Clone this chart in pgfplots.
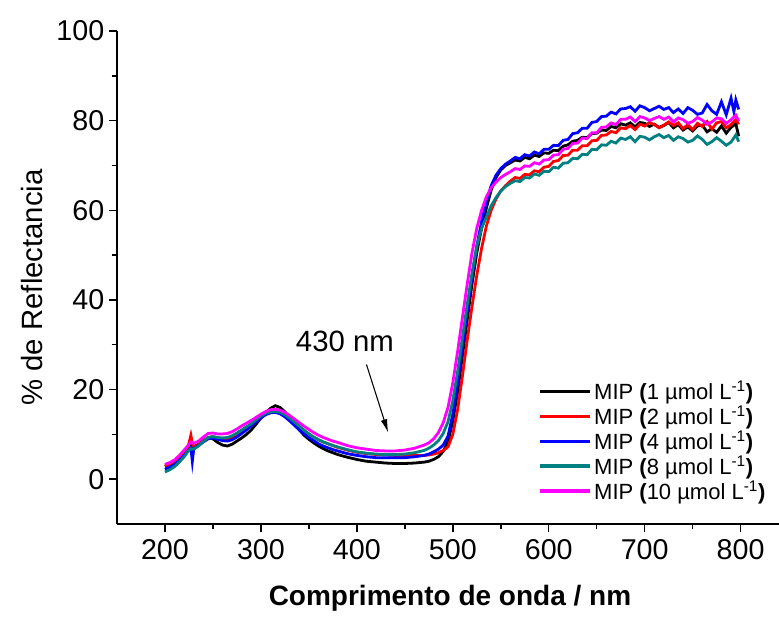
\documentclass[border=0pt]{standalone}
\usepackage{fontspec}
\setmainfont{Liberation Sans}
\usepackage{pgfplots}
\pgfplotsset{compat=1.18}
\usetikzlibrary{arrows.meta}
\definecolor{mteal}{RGB}{0,128,128}
\definecolor{mmag}{RGB}{255,0,255}
\definecolor{mred}{RGB}{255,0,0}
\definecolor{mblue}{RGB}{0,0,255}
\begin{document}
\begin{tikzpicture}
\begin{axis}[
  name=ax,
  scale only axis,
  width=496.5pt, height=369.75pt,
  xmin=150, xmax=840, ymin=-10, ymax=100,
  axis lines*=left,
  axis line style={line width=1.2pt},
  every tick/.style={line width=1.1pt, black},
  tick align=outside,
  major tick length=6pt, minor tick length=4pt,
  xtick={200,300,...,800}, minor x tick num=1,
  ytick={0,20,...,100}, minor y tick num=1,
  /pgf/number format/assume math mode=true,
  tick label style={font=\fontsize{21.5}{24}\selectfont},
  xticklabel style={yshift=-2pt},
  xlabel={\textbf{Comprimento de onda / nm}},
  ylabel={\% de Reflectancia},
  xlabel style={font=\fontsize{21}{24}\selectfont, at={(axis description cs:0.503,-0.150)}, anchor=center},
  ylabel style={font=\fontsize{22}{25}\selectfont, at={(axis description cs:-0.128,0.48)}, anchor=center},
  legend style={draw=none, fill=none, at={(axis description cs:0.630,0.302)}, anchor=north west,
    font=\fontsize{16.5}{18}\selectfont, row sep=-1.0pt},
  legend cell align=left,
  legend image code/.code={\draw[#1,line width=2.4pt] (0pt,0pt) -- (37.5pt,0pt);},
  every axis plot/.append style={line width=2.1pt},
]
% MIP 1
\addplot[black] coordinates {
(200,2.8)(205,3.3)(210,3.8)(215,4.6)(220,5.6)(224,6.8)(227,7.6)(230,7.2)(235,7.8)(240,8.6)(245,9.2)(250,9.0)(255,8.2)(260,7.6)(265,7.4)(270,7.8)(275,8.5)(280,9.2)(285,10.0)(290,11.0)(295,12.3)(300,13.6)(305,14.8)(310,15.8)(315,16.4)(320,16.0)(325,15.0)(330,13.7)(335,12.3)(340,11.0)(345,9.8)(350,8.9)(355,8.1)(360,7.4)(365,6.8)(370,6.3)(375,5.9)(380,5.5)(390,4.9)(400,4.4)(410,4.0)(420,3.8)(430,3.6)(440,3.5)(450,3.5)(460,3.6)(470,3.8)(475,4.0)(480,4.4)(485,5.0)(490,6.2)(495,8.4)(500,13.0)(505,19.5)(510,27.5)(515,35.5)(520,43.5)(525,50.5)(530,56.0)(535,60.5)(540,64.5)(545,67.3)(550,69.0)(555,70.0)(560,70.6)(565,71.2)(570,71.0)(575,71.8)(580,71.5)(585,72.3)(590,72.0)(595,72.8)(600,72.7)(605,73.4)(610,73.3)(615,74.3)(620,74.6)(625,75.4)(630,75.6)(635,76.3)(640,76.2)(645,77.1)(650,77.2)(655,77.9)(660,77.8)(665,78.7)(670,78.4)(675,79.3)(680,79.0)(685,79.5)(690,78.6)(695,79.6)(700,79.4)(705,78.7)(710,79.2)(715,78.5)(720,78.9)(725,79.6)(730,78.4)(735,79.1)(740,77.9)(745,78.6)(750,77.7)(755,78.8)(760,79.0)(765,77.5)(770,78.2)(775,77.4)(780,78.8)(785,77.2)(790,78.5)(795,79.3)(798,76.5)};
% MIP 2
\addplot[mred] coordinates {
(200,3.0)(205,3.4)(210,4.0)(215,5.0)(220,6.2)(224,7.2)(227,9.8)(229,7.5)(232,7.3)(235,7.7)(240,8.5)(245,9.3)(250,9.5)(255,9.2)(260,8.9)(265,8.8)(270,9.2)(275,9.8)(280,10.5)(285,11.2)(290,12.0)(295,12.9)(300,13.8)(305,14.5)(310,14.9)(315,15.0)(320,14.8)(325,14.3)(330,13.5)(335,12.6)(340,11.7)(345,10.9)(350,10.1)(355,9.4)(360,8.8)(365,8.3)(370,7.9)(375,7.5)(380,7.1)(390,6.5)(400,6.0)(410,5.7)(420,5.5)(430,5.4)(440,5.3)(450,5.3)(460,5.3)(470,5.3)(475,5.4)(480,5.6)(485,5.9)(490,6.4)(495,7.2)(500,10.0)(505,15.5)(510,23.0)(515,31.0)(520,38.5)(525,45.5)(530,51.5)(535,56.5)(540,60.0)(545,62.5)(550,64.3)(555,65.5)(560,66.5)(565,67.3)(570,67.1)(575,68.0)(580,67.9)(585,68.8)(590,68.6)(595,69.6)(600,69.8)(605,70.9)(610,71.1)(615,72.2)(620,72.3)(625,73.4)(630,73.4)(635,74.4)(640,74.4)(645,75.5)(650,75.6)(655,76.7)(660,76.8)(665,77.6)(670,77.3)(675,78.4)(680,78.2)(685,78.9)(690,78.0)(695,79.2)(700,78.8)(705,79.6)(710,79.1)(715,78.4)(720,79.0)(725,79.7)(730,78.9)(735,79.5)(740,78.2)(745,79.1)(750,78.0)(755,79.4)(760,78.7)(765,79.8)(770,78.1)(775,79.5)(780,79.8)(785,78.4)(790,79.1)(795,80.2)(798,79.2)};
% MIP 4
\addplot[mblue] coordinates {
(200,2.2)(205,2.7)(210,3.3)(215,4.2)(220,5.3)(224,6.3)(227,7.0)(228.5,4.0)(230,6.8)(235,7.5)(240,8.3)(245,9.0)(250,9.2)(255,8.9)(260,8.6)(265,8.5)(270,8.8)(275,9.4)(280,10.2)(285,11.0)(290,11.9)(295,12.8)(300,13.7)(305,14.4)(310,14.8)(315,14.9)(320,14.6)(325,13.9)(330,13.0)(335,12.0)(340,11.0)(345,10.1)(350,9.3)(355,8.6)(360,7.9)(365,7.4)(370,7.0)(375,6.6)(380,6.3)(390,5.7)(400,5.3)(410,5.0)(420,4.8)(430,4.8)(440,4.8)(450,4.8)(460,5.0)(470,5.3)(475,5.6)(480,6.1)(485,6.7)(490,7.6)(495,9.6)(500,14.5)(505,21.5)(510,29.5)(515,37.5)(520,45.0)(525,52.0)(530,57.5)(535,62.0)(540,65.5)(545,67.8)(550,69.3)(555,70.3)(560,71.0)(565,71.8)(570,71.5)(575,72.4)(580,72.1)(585,73.0)(590,72.6)(595,73.6)(600,73.6)(605,74.5)(610,74.4)(615,75.6)(620,75.8)(625,77.1)(630,77.3)(635,78.3)(640,78.3)(645,79.6)(650,79.8)(655,80.9)(660,81.0)(665,81.9)(670,81.5)(675,82.6)(680,82.7)(685,83.1)(690,82.1)(695,83.3)(700,82.9)(705,82.2)(710,82.7)(715,83.2)(720,82.5)(725,82.9)(730,81.8)(735,82.6)(740,81.6)(745,82.9)(750,82.3)(755,81.4)(760,81.7)(765,83.6)(770,82.2)(775,81.4)(780,84.2)(785,81.3)(790,85.0)(793,82.0)(795,84.6)(798,82.5)};
% MIP 8
\addplot[mteal] coordinates {
(200,1.6)(205,2.1)(210,2.8)(215,3.8)(220,5.0)(224,6.2)(227,6.8)(230,6.7)(235,7.4)(240,8.4)(245,9.3)(250,9.5)(255,9.3)(260,9.2)(265,9.3)(270,9.7)(275,10.3)(280,11.0)(285,11.7)(290,12.4)(295,13.3)(300,14.1)(305,14.7)(310,15.0)(315,15.1)(320,14.9)(325,14.4)(330,13.6)(335,12.7)(340,11.8)(345,10.9)(350,10.1)(355,9.4)(360,8.8)(365,8.3)(370,7.9)(375,7.5)(380,7.2)(390,6.6)(400,6.1)(410,5.8)(420,5.6)(430,5.5)(440,5.5)(450,5.6)(460,5.9)(470,6.4)(475,6.9)(480,7.6)(485,8.6)(490,10.2)(495,12.8)(500,17.5)(505,24.0)(510,31.5)(515,39.0)(520,46.0)(525,52.0)(530,56.0)(535,58.5)(540,61.0)(545,62.8)(550,64.3)(555,65.3)(560,66.0)(565,66.6)(570,66.4)(575,67.3)(580,67.2)(585,68.1)(590,67.8)(595,68.7)(600,68.6)(605,69.6)(610,69.4)(615,70.5)(620,70.6)(625,71.6)(630,71.5)(635,72.5)(640,72.4)(645,73.6)(650,73.5)(655,74.6)(660,74.5)(665,75.4)(670,75.0)(675,76.1)(680,75.8)(685,76.4)(690,75.3)(695,76.5)(700,76.3)(705,75.7)(710,76.4)(715,76.9)(720,76.2)(725,76.7)(730,75.6)(735,76.4)(740,76.0)(745,75.2)(750,75.6)(755,76.6)(760,75.8)(765,74.7)(770,75.3)(775,76.2)(780,75.4)(785,74.5)(790,75.2)(795,76.8)(798,75.3)};
% MIP 10
\addplot[mmag] coordinates {
(200,3.3)(205,3.7)(210,4.3)(215,5.3)(220,6.5)(224,7.5)(227,8.3)(230,8.0)(235,8.5)(240,9.4)(245,10.2)(250,10.3)(255,10.1)(260,10.1)(265,10.2)(270,10.6)(275,11.2)(280,11.9)(285,12.5)(290,13.1)(295,13.8)(300,14.5)(305,15.1)(310,15.5)(315,15.6)(320,15.4)(325,14.9)(330,14.2)(335,13.4)(340,12.6)(345,11.8)(350,11.1)(355,10.4)(360,9.8)(365,9.3)(370,8.9)(375,8.5)(380,8.2)(390,7.5)(400,7.0)(410,6.7)(420,6.4)(430,6.3)(440,6.3)(450,6.5)(460,6.9)(470,7.6)(475,8.1)(480,9.0)(485,10.4)(490,12.6)(495,16.0)(500,21.5)(505,28.5)(510,36.0)(515,43.5)(520,50.5)(525,56.0)(530,60.0)(535,63.0)(540,65.0)(545,66.3)(550,67.3)(555,68.0)(560,68.6)(565,69.3)(570,69.1)(575,69.9)(580,69.8)(585,70.6)(590,70.3)(595,71.2)(600,71.3)(605,72.3)(610,72.4)(615,73.6)(620,73.8)(625,74.9)(630,75.0)(635,76.1)(640,76.0)(645,77.3)(650,77.3)(655,78.5)(660,78.6)(665,79.5)(670,79.1)(675,80.3)(680,80.3)(685,80.8)(690,79.8)(695,80.9)(700,80.6)(705,80.0)(710,80.5)(715,80.9)(720,80.3)(725,80.8)(730,79.7)(735,80.6)(740,80.2)(745,79.4)(750,79.8)(755,80.7)(760,80.1)(765,79.2)(770,79.7)(775,80.6)(780,80.4)(785,79.4)(790,80.2)(795,81.2)(798,79.9)};
\legend{MIP \textbf{(}1 µmol L\textsuperscript{-1}\textbf{)},
        MIP \textbf{(}2 µmol L\textsuperscript{-1}\textbf{)},
        MIP \textbf{(}4 µmol L\textsuperscript{-1}\textbf{)},
        MIP \textbf{(}8 µmol L\textsuperscript{-1}\textbf{)},
        MIP \textbf{(}10 µmol L\textsuperscript{-1}\textbf{)}}
\node[font=\fontsize{22}{25}\selectfont] at (axis cs:387.5,30.7) {430 nm};
\draw[line width=0.8pt, -{Latex[length=10pt,width=5pt]}] (axis cs:410,25.6) -- (axis cs:432.6,10.4);
\end{axis}
\pgfresetboundingbox
\path[use as bounding box] ([xshift=-87.75pt,yshift=-79.5pt]ax.south west) rectangle ([yshift=23.25pt]ax.north east);
\end{tikzpicture}
\end{document}
